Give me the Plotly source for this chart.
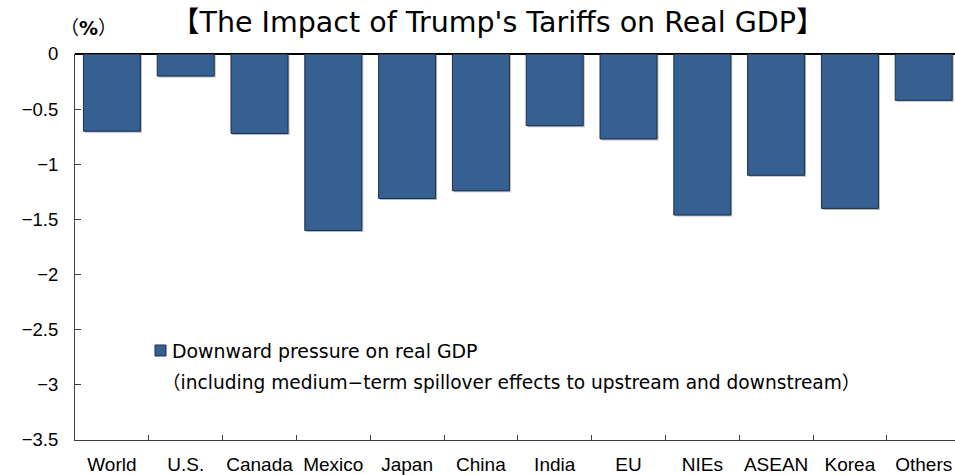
import plotly.graph_objects as go

# Real GDP impact by economy (%)
regions = ["World", "U.S.", "Canada", "Mexico", "Japan", "China",
           "India", "EU", "NIEs", "ASEAN", "Korea", "Others"]
gdp_impact = [-0.70, -0.20, -0.72, -1.60, -1.31, -1.24,
              -0.65, -0.77, -1.46, -1.10, -1.40, -0.42]

y_ticks = [0, -0.5, -1, -1.5, -2, -2.5, -3, -3.5]
y_tick_text = ["0", "−0.5", "−1", "−1.5", "−2", "−2.5", "−3", "−3.5"]

W, H = 955, 475
L, R, T, B = 75, 0, 54, 35
plot_w = W - L - R
plot_h = H - T - B
pitch = 73.8               # pixels per category
x_span = plot_w / pitch
y_lo, y_hi = -3.5, 0.0
bar_w = 0.772

BAR = "#376092"
EDGE = "#1c2d48"
FONT_TXT = "DejaVu Sans, Noto Sans CJK JP"
FONT_NUM = "Liberation Sans"

# drop shadow offset, converted from pixels to axis units
sh_dx = 1.5 / pitch
sh_dy = 1.5 * (y_hi - y_lo) / plot_h


def px(xp):
    return (xp - L) / plot_w


def py(yp):
    return (H - B - yp) / plot_h


fig = go.Figure()
fig.add_trace(go.Bar(
    x=regions, y=gdp_impact, base=-sh_dy,
    width=bar_w, offset=-bar_w / 2 + sh_dx,
    marker=dict(color="rgba(0,0,0,0.28)", line=dict(width=0)),
    hoverinfo="skip", showlegend=False,
))
fig.add_trace(go.Bar(
    x=regions, y=gdp_impact,
    width=bar_w, offset=-bar_w / 2,
    marker=dict(color=BAR, line=dict(color=EDGE, width=1)),
    name="Downward pressure on real GDP", showlegend=False,
))

fig.update_layout(
    width=W, height=H,
    margin=dict(l=L, r=R, t=T, b=B, pad=0, autoexpand=False),
    paper_bgcolor="white", plot_bgcolor="white",
    barmode="overlay",
    showlegend=False,
    font=dict(family=FONT_NUM, color="black"),
    xaxis=dict(
        type="category", range=[-0.5, -0.5 + x_span],
        tickson="boundaries", ticks="inside", ticklen=5,
        tickcolor="#404040", tickwidth=1, tickangle=0,
        showline=True, linecolor="#404040", linewidth=1,
        showgrid=False, zeroline=False, automargin=False,
        tickfont=dict(family=FONT_NUM, size=19, color="black"),
        ticklabelstandoff=7,
    ),
    yaxis=dict(
        range=[y_lo, y_hi], tickvals=y_ticks, ticktext=y_tick_text,
        ticks="inside", ticklen=6, tickcolor="#404040", tickwidth=1,
        showline=True, linecolor="#404040", linewidth=1,
        showgrid=False, automargin=False,
        zeroline=True, zerolinecolor="black", zerolinewidth=2,
        tickfont=dict(family=FONT_NUM, size=18.5, color="black"),
        ticklabelstandoff=12,
    ),
)

# legend swatch and text
fig.add_shape(type="rect", xref="paper", yref="paper",
              x0=px(155), x1=px(166), y0=py(356), y1=py(345),
              fillcolor=BAR, line=dict(color=EDGE, width=1))
fig.add_annotation(xref="paper", yref="paper", x=px(170), y=py(351),
                   xanchor="left", yanchor="middle", showarrow=False,
                   text="Downward pressure on real GDP",
                   font=dict(family=FONT_TXT, size=18.9, color="black"))
fig.add_annotation(xref="paper", yref="paper", x=px(160), y=py(382),
                   xanchor="left", yanchor="middle", showarrow=False,
                   text="（including medium−term spillover effects to upstream and downstream）",
                   font=dict(family=FONT_TXT, size=18.6, color="black"))

# title and unit
fig.add_annotation(xref="paper", yref="paper", x=px(497), y=py(23),
                   xanchor="center", yanchor="middle", showarrow=False,
                   text="【The Impact of Trump's Tariffs on Real GDP】",
                   font=dict(family=FONT_TXT, size=28.5, color="black"))
fig.add_annotation(xref="paper", yref="paper", x=px(88), y=py(28),
                   xanchor="center", yanchor="middle", showarrow=False,
                   text="（<b>%</b>）",
                   font=dict(family=FONT_TXT, size=19, color="black"))

fig.write_html("out.html")
